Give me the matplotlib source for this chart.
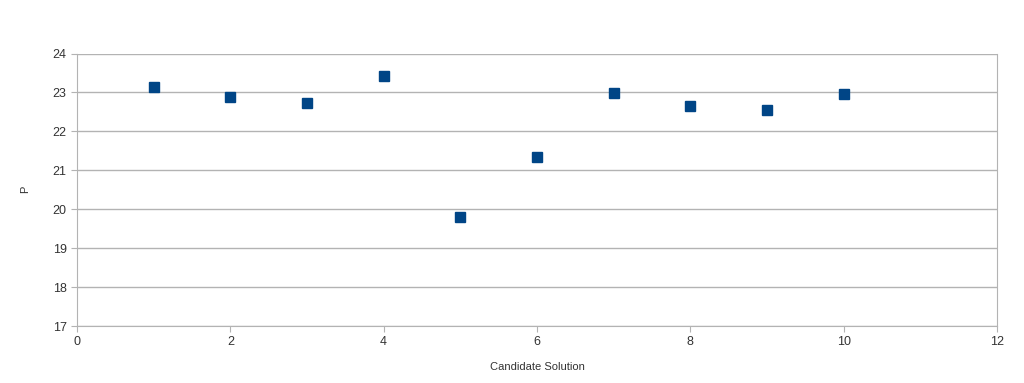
import matplotlib
matplotlib.use("Agg")
import matplotlib.pyplot as plt

candidates = [1, 2, 3, 4, 5, 6, 7, 8, 9, 10]
p_values = [23.13, 22.87, 22.72, 23.41, 19.81, 21.34, 22.98, 22.64, 22.56, 22.97]

plt.rcParams["font.family"] = ["Liberation Sans", "DejaVu Sans"]

fig = plt.figure(figsize=(10.24, 3.83), dpi=100)
ax = fig.add_axes([0.0752, 0.1488, 0.8984, 0.7115])

ax.plot(candidates, p_values, linestyle="none", marker="s", markersize=7.2,
        color="#004586", markeredgecolor="#004586")

ax.set_xlim(0, 12)
ax.set_ylim(17, 24)
ax.set_xticks(range(0, 13, 2))
ax.set_yticks(range(17, 25))
ax.grid(axis="y", color="#b3b3b3", linewidth=1)
ax.set_axisbelow(True)

for side in ("left", "right", "bottom"):
    ax.spines[side].set_color("#b3b3b3")
ax.spines["top"].set_visible(False)
ax.tick_params(colors="#b3b3b3", labelcolor="#333333", labelsize=9, length=4)

ax.set_xlabel("Candidate Solution", fontsize=8, color="#333333", labelpad=10)
ax.set_ylabel("P", fontsize=8, color="#333333", labelpad=16)

fig.savefig("out.png", dpi=100)
